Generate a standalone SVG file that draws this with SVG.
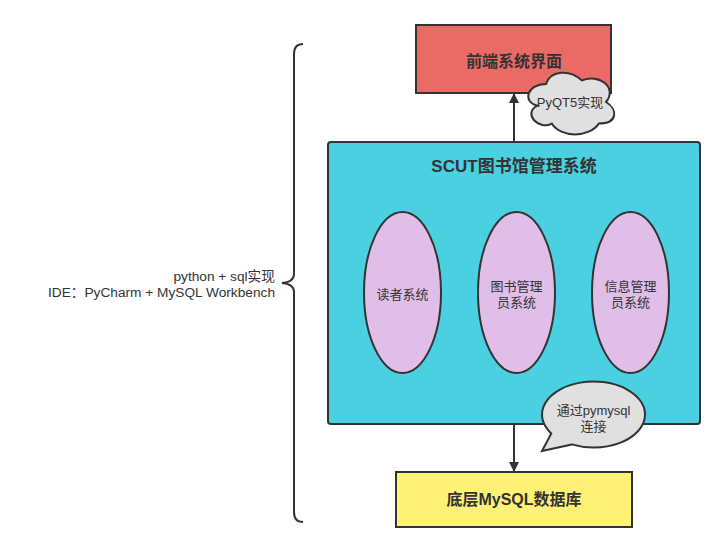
<svg xmlns="http://www.w3.org/2000/svg" width="725" height="553" viewBox="0 0 725 553">
<defs>
<style>
text{font-family:"Liberation Sans","Noto Sans CJK SC",sans-serif;fill:#333333;text-anchor:middle}
.sh{stroke:#333333;stroke-width:2}
.t13{font-size:13px}
.b{font-weight:bold}
.note{font-size:13.7px;text-anchor:end}
</style>
<marker id="ah" markerWidth="10" markerHeight="12" refX="9" refY="5" orient="auto" markerUnits="userSpaceOnUse" viewBox="0 0 10 10">
<path d="M0,0 L10,5 L0,10 Z" fill="#333333"/>
</marker>
</defs>
<rect width="725" height="553" fill="#ffffff"/>

<g id="connectors" fill="none" stroke="#333333" stroke-width="2">
<line x1="514" y1="142" x2="514" y2="94" marker-end="url(#ah)"/>
<line x1="514" y1="424" x2="514" y2="471" marker-end="url(#ah)"/>
</g>

<g id="frontend">
<rect x="416" y="25" width="195" height="68" fill="#EA6B66" class="sh"/>
<text x="514" y="67" font-size="16" class="b">前端系统界面</text>
</g>

<g id="system">
<rect x="328" y="142" width="372" height="282" rx="3" fill="#4BD0E1" class="sh"/>
<text x="514" y="172" font-size="17" class="b">SCUT图书馆管理系统</text>
</g>

<g id="reader">
<ellipse cx="402.5" cy="292.5" rx="38.5" ry="80.5" fill="#E1BEE7" class="sh"/>
<text x="402.5" y="299" class="t13">读者系统</text>
</g>

<g id="bookadmin">
<ellipse cx="516.5" cy="292.5" rx="38.5" ry="80.5" fill="#E1BEE7" class="sh"/>
<text x="516.5" y="291" class="t13">图书管理</text>
<text x="516.5" y="307" class="t13">员系统</text>
</g>

<g id="infoadmin">
<ellipse cx="630.5" cy="292.5" rx="38.5" ry="80.5" fill="#E1BEE7" class="sh"/>
<text x="630.5" y="291" class="t13">信息管理</text>
<text x="630.5" y="307" class="t13">员系统</text>
</g>

<g id="pyqt">
<path d="M546,84 C526.8,84 522,102 537.4,105.6 C522,113.5 539.3,130.8 551.8,123.6 C560.4,138 589.2,138 598.8,123.6 C618,123.6 618,109.2 606,102 C618,87.6 598.8,73.2 582,80.4 C570,69.6 550.8,69.6 546,84 Z" fill="#E0E0E0" class="sh"/>
<text x="570" y="107" class="t13">PyQT5实现</text>
</g>

<g id="pymysql">
<path d="M571.7,444.4 L542,451 L551.3,433.4 A51.5 33 0 1 1 571.7,444.4 Z" fill="#E0E0E0" class="sh"/>
<text x="593.5" y="415" class="t13">通过pymysql</text>
<text x="593.5" y="431" class="t13">连接</text>
</g>

<g id="database">
<rect x="396" y="472" width="236" height="55" fill="#FFF176" class="sh"/>
<text x="514" y="505" font-size="16" class="b">底层MySQL数据库</text>
</g>

<g id="note">
<path d="M303,44 Q294,44 294,54 L294,274 Q294,282 282,283 Q294,284 294,292 L294,512 Q294,522 303,522" fill="none" class="sh"/>
<text x="275" y="281" class="note">python + sql实现</text>
<text x="275" y="297" class="note">IDE：PyCharm + MySQL Workbench</text>
</g>
</svg>
